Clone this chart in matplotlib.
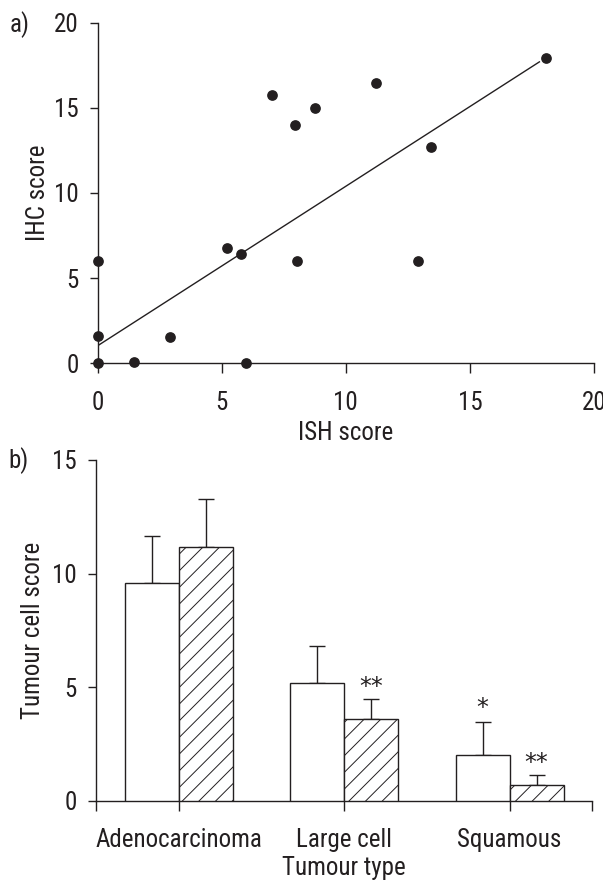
import matplotlib
matplotlib.use('Agg')
import matplotlib.pyplot as plt
from matplotlib import font_manager
import numpy as np

# ---------------- data ----------------
ish_score = [0, 0, 0, 1.47, 2.93, 5.23, 5.79, 5.98, 7.04, 7.96, 8.02, 8.75, 11.23, 12.89, 13.43, 18.05]
ihc_score = [0, 1.6, 6.0, 0.08, 1.55, 6.77, 6.42, 0, 15.75, 14.0, 6.0, 15.0, 16.46, 6.0, 12.7, 17.93]
fit_x = [0, 17.8]
fit_y = [1.03, 17.7]

tumour_types = ['Adenocarcinoma', 'Large cell', 'Squamous']
white_mean = [9.58, 5.18, 2.02]
white_err = [2.08, 1.64, 1.47]
hatched_mean = [11.19, 3.59, 0.70]
hatched_err = [2.11, 0.90, 0.46]
white_sig = ['', '', '*']
hatched_sig = ['', '**', '**']

top_ticks = [0, 5, 10, 15, 20]
bar_yticks = [0, 5, 10, 15]

# ---------------- font selection (condensed sans if available) ----------------
fl = font_manager.fontManager.ttflist
names = {f.name for f in fl}
fam, stretch, condensed = 'Liberation Sans', 'normal', False
for cand in ['Liberation Sans Narrow', 'Arial Narrow', 'Roboto Condensed', 'Open Sans Condensed']:
    if cand in names:
        fam, condensed = cand, True
        break
if not condensed:
    for f in fl:
        if f.name in ('DejaVu Sans', 'Noto Sans', 'Open Sans', 'Roboto') and str(f.stretch) in ('condensed', 'semi-condensed', '300', '400') and f.style == 'normal' and f.weight in (400, 'normal', 'regular'):
            fam, stretch, condensed = f.name, f.stretch, True
            break
FS = 18 if condensed else 16
plt.rcParams['font.family'] = [fam, 'DejaVu Sans']
plt.rcParams['font.stretch'] = stretch
plt.rcParams['hatch.linewidth'] = 0.7
col = '#231f20'

fig = plt.figure(figsize=(6.03, 8.83), dpi=100)

# ---------------- panel a ----------------
ax1 = fig.add_axes([0.1620, 0.5886, 0.8231, 0.3857])
ax1.plot(fit_x, fit_y, color=col, lw=1.0)
ax1.plot(ish_score, ihc_score, 'o', color=col, ms=6.7, clip_on=False, zorder=5)
ax1.set_xlim(0, 20)
ax1.set_ylim(0, 20)
ax1.set_xticks(top_ticks)
ax1.set_yticks(top_ticks)
for s in ['top', 'right']:
    ax1.spines[s].set_visible(False)
for s in ['left', 'bottom']:
    ax1.spines[s].set_linewidth(1.0)
    ax1.spines[s].set_color(col)
ax1.tick_params(axis='x', direction='out', length=7.2, width=1.0, pad=13, labelsize=FS, colors=col)
ax1.tick_params(axis='y', direction='out', length=5.8, width=1.0, pad=8, labelsize=FS, colors=col)
ax1.set_xlabel('ISH score', fontsize=FS, color=col, labelpad=4)
ax1.set_ylabel('IHC score', fontsize=FS, color=col, labelpad=3)
fig.text(10 / 603, 1 - 25 / 883, 'a)', fontsize=FS, color=col, ha='left', va='center')

# ---------------- panel b ----------------
ax2 = fig.add_axes([0.1592, 0.09287, 0.8231, 0.3862])
pos = np.arange(len(tumour_types)) + 0.5
w = 0.326
ax2.bar(pos - w / 2, white_mean, w, color='white', edgecolor=col, lw=1.0, zorder=3)
ax2.bar(pos + w / 2, hatched_mean, w, color='white', edgecolor=col, lw=1.0, hatch='//', zorder=3)
ax2.errorbar(pos - w / 2, white_mean, yerr=[np.zeros(3), white_err], fmt='none', ecolor=col,
             elinewidth=1.0, capsize=6, capthick=1.0, zorder=2)
ax2.errorbar(pos + w / 2, hatched_mean, yerr=[np.zeros(3), hatched_err], fmt='none', ecolor=col,
             elinewidth=1.0, capsize=6, capthick=1.0, zorder=2)
for i in range(3):
    if white_sig[i]:
        ax2.annotate(white_sig[i], (pos[i] - w / 2, white_mean[i] + white_err[i]),
                     xytext=(0, 9.5), textcoords='offset points', ha='center', va='center',
                     fontsize=17, color=col, family='DejaVu Sans')
    if hatched_sig[i]:
        ax2.annotate(hatched_sig[i], (pos[i] + w / 2, hatched_mean[i] + hatched_err[i]),
                     xytext=(0, 8.5), textcoords='offset points', ha='center', va='center',
                     fontsize=17, color=col, family='DejaVu Sans')
ax2.set_xlim(0, 3)
ax2.set_ylim(0, 15)
ax2.set_yticks(bar_yticks)
ax2.set_xticks([0, 3] + list(pos))
ax2.set_xticklabels(['', ''] + tumour_types)
for s in ['top', 'right']:
    ax2.spines[s].set_visible(False)
for s in ['left', 'bottom']:
    ax2.spines[s].set_linewidth(1.0)
    ax2.spines[s].set_color(col)
ax2.tick_params(axis='x', direction='out', length=7.2, width=1.0, pad=12, labelsize=FS, colors=col)
ax2.tick_params(axis='y', direction='out', length=5.8, width=1.0, pad=8, labelsize=FS, colors=col)
ax2.set_xlabel('Tumour type', fontsize=FS, color=col, labelpad=3)
ax2.set_ylabel('Tumour cell score', fontsize=FS, color=col, labelpad=5)
fig.text(8 / 603, 1 - 461 / 883, 'b)', fontsize=FS, color=col, ha='left', va='center')

fig.savefig('out.png', dpi=100)
